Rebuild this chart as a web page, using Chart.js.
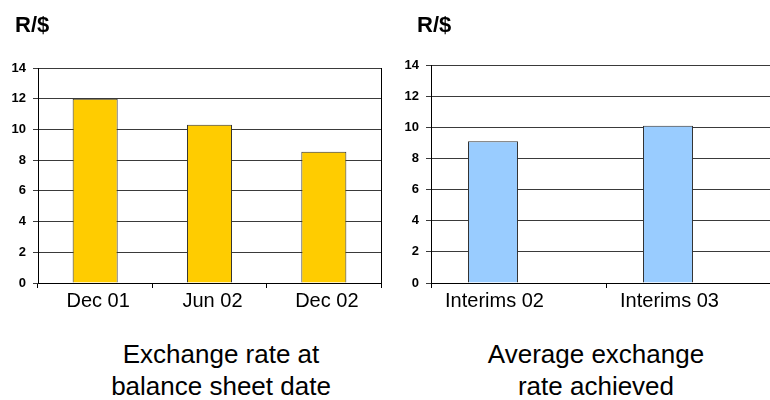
<!DOCTYPE html>
<html>
<head>
<meta charset="utf-8">
<script src="https://cdn.jsdelivr.net/npm/chart.js@4"></script>
<style>
  html, body { margin:0; padding:0; background:#fff; }
  #wrap { position:relative; width:770px; height:400px; overflow:hidden; background:#fff; font-family:"Liberation Sans", Arial, sans-serif; }
  canvas { position:absolute; top:0; }
  .unit { position:absolute; top:14px; font-weight:bold; font-size:22px; line-height:1; color:#000; }
  .cap { position:absolute; top:338px; width:300px; text-align:center; font-size:26px; line-height:32px; color:#000; }
</style>
</head>
<body>
<div id="wrap">
  <canvas id="c1" width="390" height="320" style="left:0px;width:390px;height:320px"></canvas>
  <canvas id="c2" width="400" height="320" style="left:390px;width:400px;height:320px"></canvas>
  <div class="unit" style="left:15px">R/$</div>
  <div class="unit" style="left:417px">R/$</div>
  <div class="cap" style="left:71px">Exchange rate at<br>balance sheet date</div>
  <div class="cap" style="left:446px">Average exchange<br>rate achieved</div>
</div>
<script>
const unitLabel = "R/$";
const leftCategories = ["Dec 01", "Jun 02", "Dec 02"];
const leftValues = [12.0, 10.3, 8.55];
const rightCategories = ["Interims 02", "Interims 03"];
const rightValues = [9.1, 10.1];
const yMin = 0, yMax = 14, yStep = 2;

const FONT = '"Liberation Sans", Arial, sans-serif';

function yAxis(width) {
  return {
    min: yMin, max: yMax,
    ticks: { stepSize: yStep, color: '#000', padding: 7, font: { family: FONT, size: 13, weight: 'bold' } },
    grid: { color: '#3a3a3a', lineWidth: 1, tickLength: 5, drawTicks: true },
    border: { display: true, color: '#000', width: 1 },
    afterFit: s => { s.width = width; }
  };
}
function xAxis(labelOffset) {
  return {
    ticks: { color: '#000', padding: 1, maxRotation: 0, autoSkip: false, labelOffset: labelOffset,
             font: { family: FONT, size: 20 } },
    grid: { offset: true, drawOnChartArea: false, drawTicks: true, tickLength: 5, color: '#000' },
    border: { display: true, color: '#000', width: 1 },
    afterFit: s => { s.height = 37; }
  };
}
const common = {
  responsive: false, animation: false, devicePixelRatio: 1,
  plugins: { legend: { display: false }, tooltip: { enabled: false }, title: { display: false } },
  events: []
};

new Chart(document.getElementById('c1'), {
  type: 'bar',
  data: {
    labels: leftCategories,
    datasets: [{ label: unitLabel, data: leftValues, backgroundColor: '#FFCC00', borderColor: '#333', borderWidth: 1,
                 categoryPercentage: 1, barPercentage: 0.394 }]
  },
  options: Object.assign({}, common, {
    layout: { padding: { left: 0, top: 68, right: 9, bottom: 0 } },
    scales: {
      x: xAxis(3),
      y: yAxis(38),
      y2: { position: 'right', min: yMin, max: yMax, ticks: { display: false }, grid: { display: false },
            border: { display: true, color: '#000', width: 1 }, afterFit: s => { s.width = 0; } }
    }
  })
});

new Chart(document.getElementById('c2'), {
  type: 'bar',
  data: {
    labels: rightCategories,
    datasets: [
      { label: unitLabel, data: rightValues, backgroundColor: '#99CCFF', borderColor: '#333', borderWidth: 1,
        categoryPercentage: 0.583, barPercentage: 0.98 },
      { label: '', data: rightCategories.map(() => null), backgroundColor: 'rgba(0,0,0,0)', borderWidth: 0,
        categoryPercentage: 0.583, barPercentage: 0.98 }
    ]
  },
  options: Object.assign({}, common, {
    layout: { padding: { left: 0, top: 65, right: 9, bottom: 0 } },
    scales: {
      x: xAxis(-24),
      y: yAxis(41)
    }
  })
});
</script>
</body>
</html>
